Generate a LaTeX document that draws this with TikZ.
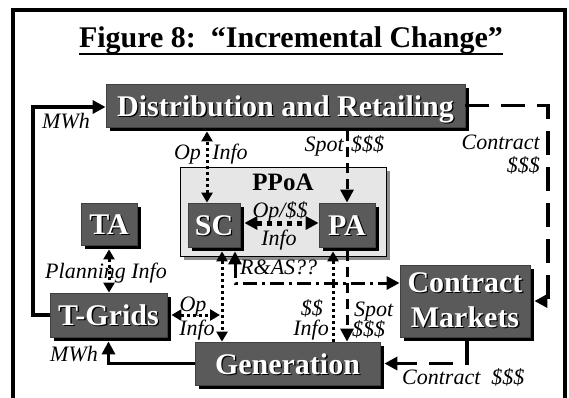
\documentclass[tikz,border=0pt]{standalone}
\usepackage{fontspec}
\setmainfont{Liberation Serif}
\usetikzlibrary{arrows.meta,calc,shadows}
\definecolor{boxgray}{RGB}{90,90,90}
\definecolor{panel}{RGB}{230,230,230}
% white box lettering with a dark drop shadow behind it
\newcommand\embossed[1]{\rlap{\kern1.3pt\raisebox{-1.3pt}{\color{black}#1}}#1}

\begin{document}
\begin{tikzpicture}[x=1pt,y=-1pt,
  >={Triangle[length=13pt,width=13pt]},
  dbox/.style={fill=boxgray, draw=black!75, line width=0.8pt, inner sep=0pt,
     general shadow={fill=black, shadow xshift=4pt, shadow yshift=-4pt},
     text=white, font=\fontsize{30}{35}\selectfont\bfseries, align=center},
  onetext/.style={text height=21pt, text depth=0pt},
  lbl/.style={inner sep=0pt, font=\fontsize{22}{24}\selectfont\itshape,
     text height=15pt, text depth=3pt},
  solidln/.style={line width=3.5pt},
  bigdash/.style={line width=3.5pt, dash pattern=on 24pt off 12pt},
  smdash/.style={line width=3pt, dash pattern=on 10pt off 6pt},
  dotln/.style={line width=3pt, dash pattern=on 3pt off 3pt,
     >={Triangle[length=10pt,width=11pt]}},
  bigdot/.style={line width=5pt, dash pattern=on 5pt off 5pt},
  dashdotln/.style={line width=3pt, dash pattern=on 14pt off 5pt on 3pt off 5pt},
]
\useasboundingbox (0,0) rectangle (569,397);
\clip (0,0) rectangle (569,397);

% outer frame
\draw[line width=4pt] (12.5,405) -- (12.5,10) -- (565,10) -- (565,405);

% title
\node[inner sep=0pt, anchor=base, font=\fontsize{30}{35}\selectfont\bfseries]
  (title) at (291,47) {Figure 8:\ \ “Incremental Change”};
\draw[line width=2.5pt] ($(title.base west)+(0,7)$) -- ($(title.base east)+(0,7)$);

% PPoA panel
\node[fill=panel, draw=black, line width=0.8pt, inner sep=0pt,
  general shadow={fill=black!45, shadow xshift=4pt, shadow yshift=-4pt},
  minimum width=206pt, minimum height=89pt] (PPoA) at (283,211.5) {};
\node[inner sep=0pt, font=\fontsize{25}{28}\selectfont\bfseries,
  text height=16.5pt, text depth=0pt] (ppoalbl) at (283,182) {PPoA};

% boxes
\node[dbox, onetext, minimum width=359pt, minimum height=43pt] (DR) at (285.5,105.5)
  {\embossed{Distribution and Retailing}};
\node[dbox, onetext, minimum width=56pt, minimum height=42pt] (TA) at (109,224) {\embossed{TA}};
\node[dbox, onetext, minimum width=52pt, minimum height=44pt] (SC) at (214,225) {\embossed{SC}};
\node[dbox, onetext, minimum width=56pt, minimum height=44pt] (PA) at (347,225) {\embossed{PA}};
\node[dbox, onetext, minimum width=117pt, minimum height=44pt] (TG) at (108.5,315) {\embossed{T-Grids}};
\node[dbox, minimum width=130pt, minimum height=72pt] (CM) at (465,301)
  {\embossed{Contract}\\\embossed{Markets}};
\node[dbox, onetext, minimum width=185pt, minimum height=43pt] (GEN) at (287.5,363.5)
  {\embossed{Generation}};

% free bends
\coordinate (lft) at (33,107);
\coordinate (rt) at (548,105);
\coordinate (ra) at (235,283);

% connectors
\draw[solidln,->] (TG.west) -- (TG.west -| lft) -- (lft) -- (lft -| DR.west);
\draw[bigdash,->] (DR.east) -- (DR.east -| rt) -- (rt |- CM.east) -- ($(CM.east)+(4,0)$);
\draw[dotln,<->] ($(SC.north)+(-7,0)$) -- ($(SC.north |- DR.south)+(-7,4)$);
\draw[smdash,->] ($(DR.south -| PA.north)+(0,4)$) -- (PA.north);
\draw[bigdot,<->] ($(SC.east)+(4,-2)$) -- ($(PA.west)+(0,-2)$);
\draw[dotln,<->] ($(TA.south)+(0,4)$) -- (TG.north -| TA.south);
\draw[dotln,<->] ($(TG.east)+(4,0)$) -- ($(TG.east -| SC.south)+(6,0)$);
\draw[dotln,<->] ($(SC.south)+(8,4)$) -- ($(GEN.north -| SC.south)+(8,0)$);
\draw[dashdotln,<->] ($(SC.south)+(21,4)$) |- (CM.west |- ra);
\draw[dotln,<-] ($(PA.south)+(-14,4)$) -- ($(GEN.north -| PA.south)+(-14,0)$);
\draw[smdash,->] ($(PA.south)+(0,4)$) -- (GEN.north -| PA.south);
\draw[solidln,->] (GEN.west) -| ($(TG.south)+(0,4)$);
\draw[bigdash,->] ($(CM.south)+(2,4)$) |- ($(GEN.east)+(4,0)$);

% connector labels
\node[lbl] (mwhtop) at (66,122) {MWh};
\node[lbl] (opA) at (187.5,153) {Op};
\node[lbl] (infoA) at (230,153) {Info};
\node[lbl, anchor=east] (spotA) at (344,145) {Spot};
\node[lbl, anchor=west] (spotA2) at (351,145) {\$\$\$};
\node[lbl, anchor=east] (ctrA) at (540,143) {Contract};
\node[lbl, anchor=east] (ctrA2) at (540,166) {\$\$\$};
\node[lbl] (opB) at (280,211) {Op/\$\$};
\node[lbl] (infoB) at (279,239) {Info};
\node[lbl] (plan) at (106,272) {Planning Info};
\node[lbl, anchor=west] (ras) at (240,268) {R\&AS??};
\node[lbl] (opC) at (193,305) {Op};
\node[lbl] (infoC) at (197,329) {Info};
\node[lbl, anchor=east] (mon) at (323,309) {\$\$};
\node[lbl, anchor=east] (infoD) at (329,329) {Info};
\node[lbl, anchor=west] (spotB) at (354,310) {Spot};
\node[lbl, anchor=west] (spotB2) at (352,330) {\$\$\$};
\node[lbl] (mwhbot) at (74,355) {MWh};
\node[lbl, anchor=west] (ctrB) at (402,378) {Contract\ \ \$\$\$};
\end{tikzpicture}
\end{document}
